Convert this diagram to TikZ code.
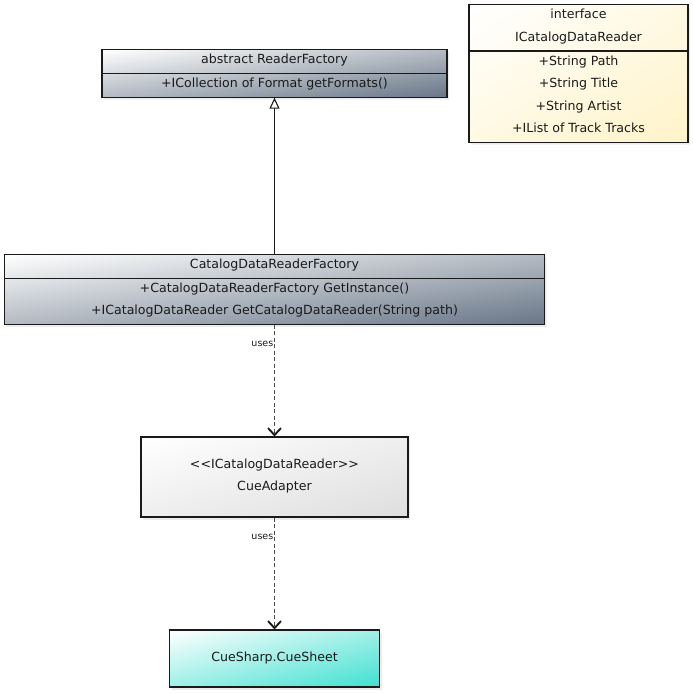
\documentclass[tikz,border=0pt]{standalone}
\usepackage{fontspec}
\setmainfont{DejaVu Sans}
\usepackage{xcolor}
\usepackage{tikz}
\usetikzlibrary{calc, shapes, shapes.multipart, shadows, arrows.meta, positioning}
\definecolor{slate}{RGB}{104, 118, 135}
\definecolor{cream}{RGB}{255, 243, 200}
\definecolor{ash}{RGB}{222, 222, 222}
\definecolor{teal}{RGB}{64, 224, 208}
\definecolor{ink}{RGB}{26, 26, 26}
\colorlet{umlend}{slate}
\pgfdeclarefunctionalshading[umlend]{umlgrad}{\pgfpointorigin}{\pgfpoint{100bp}{100bp}}
  {\pgfshadecolortorgb{umlend}{\umlend}}
  {sub 50 add 100 div
   dup 0 lt {pop 0} if dup 1 gt {pop 1} if
   dup 1 \umlendred\space sub mul 1 exch sub exch
   dup 1 \umlendgreen\space sub mul 1 exch sub exch
   1 \umlendblue\space sub mul 1 exch sub}
\newcommand{\umlfont}{\fontsize{12.6bp}{22.5bp}\selectfont}
\newcommand{\usesfont}{\fontsize{9.5bp}{11bp}\selectfont}
\newcommand{\ls}{\rule[-9bp]{0pt}{22.5bp}}
\tikzset{
    classnode/.style = {draw=ink, line width=1.1bp, rectangle split, rectangle split parts=2,
      inner xsep=2bp, inner ysep=0pt, node distance=0em, font=\umlfont, text=ink,
      drop shadow={shadow xshift=2bp, shadow yshift=-2.5bp, opacity=0.15}},
    boxnode/.style = {draw=ink, line width=1.1bp, rectangle, inner sep=0pt, node distance=0em,
      font=\umlfont, text=ink, drop shadow={shadow xshift=2bp, shadow yshift=-2.5bp, opacity=0.15}},
    grad/.style = {/utils/exec={\colorlet{umlend}{#1}}, shading=umlgrad, shading angle=0},
    inherit/.style = {ink, line width=1.1bp, -{Triangle[open, width=10bp, length=11bp, fill=white]}},
    uses/.style = {draw=black!70, line width=1.5bp, dash pattern=on 4bp off 2.5bp,
      -{Straight Barb[length=7bp, width=13bp, line width=1.9bp, color=ink]}},
    every text node part/.style={align=center},
    every two node part/.style={align=center}
}

\begin{document}
\begin{tikzpicture}[x=1bp, y=-1bp]
    \useasboundingbox (0,0) rectangle (693,693);

    \node [name=readerfactory, classnode, grad=slate, minimum width=345bp] at (274.5,73.5)
        {\ls abstract ReaderFactory \nodepart{two} \ls +ICollection of Format getFormats()};

    \node [name=datareader, classnode, grad=cream, minimum width=219bp,
        right of = readerfactory, xshift=304bp]
        {\ls interface\\\ls ICatalogDataReader
         \nodepart{two} \ls +String Path\\\ls +String Title\\\ls +String Artist\\\ls +IList of Track Tracks};

    \node [name=readerfactoryimpl, classnode, grad=slate, minimum width=540bp,
        below of = readerfactory, yshift=-216bp]
        {\ls CatalogDataReaderFactory
         \nodepart{two} \ls +CatalogDataReaderFactory GetInstance()\\\ls +ICatalogDataReader GetCatalogDataReader(String path)};

    \node [name=cueadapter, boxnode, grad=ash, minimum width=267bp, minimum height=80bp, align=center,
        below of = readerfactory, yshift=-403.5bp]
        {\ls <{}<ICatalogDataReader>{}>\\\ls CueAdapter};

    \node [name=cuesheet, boxnode, grad=teal, minimum width=210bp, minimum height=57bp,
        below of = readerfactory, yshift=-585bp]
        {CueSharp.CueSheet};

    \draw [inherit] (readerfactoryimpl) -- (readerfactory);
    \draw [uses] (readerfactoryimpl) -- node[pos=0.17, left, inner sep=0.5bp, font=\usesfont, text=ink] {uses} (cueadapter);
    \draw [uses] (cueadapter) -- node[pos=0.17, left, inner sep=0.5bp, font=\usesfont, text=ink] {uses} (cuesheet);
\end{tikzpicture}
\end{document}
